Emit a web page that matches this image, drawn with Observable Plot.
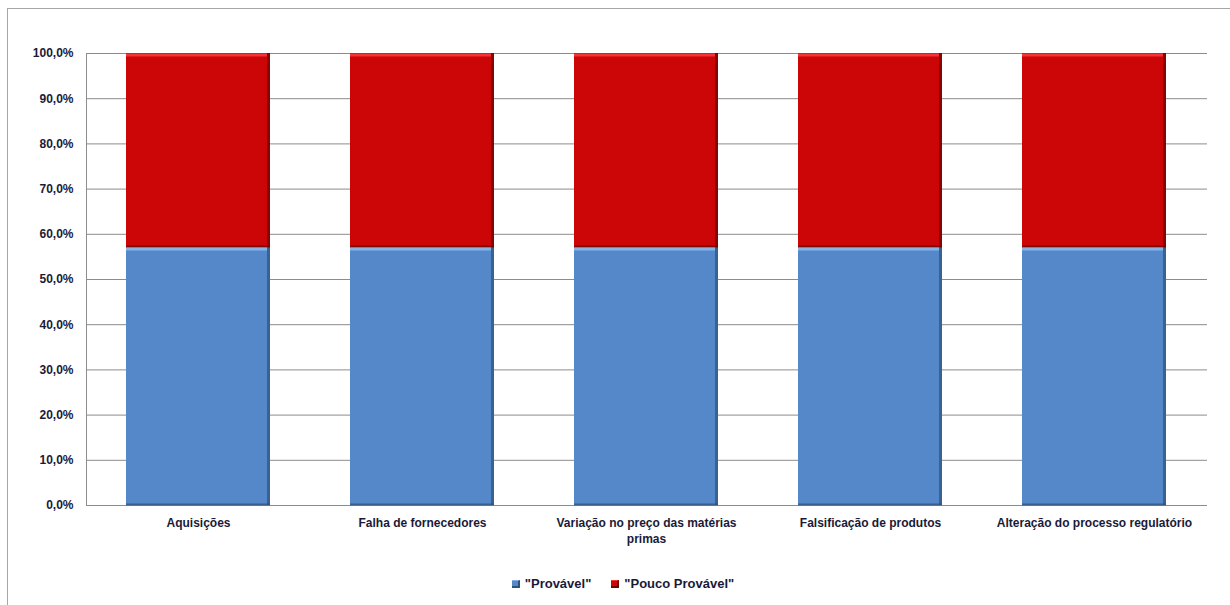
<!DOCTYPE html>
<html>
<head>
<meta charset="utf-8">
<script src="https://cdn.jsdelivr.net/npm/d3@7"></script>
<script src="https://cdn.jsdelivr.net/npm/@observablehq/plot@0.6"></script>
<style>
  html, body { margin: 0; padding: 0; background: #fff; }
  body { width: 1230px; height: 605px; position: relative; overflow: hidden; font-family: "Liberation Sans", sans-serif; }
  #frame { position: absolute; left: 7px; top: 8px; width: 1240px; height: 620px; border-top: 1px solid #a6a6a6; border-left: 1px solid #a6a6a6; }
  #chart { position: absolute; left: 0; top: 0; }
  #legend { position: absolute; top: 576px; left: 0; width: 1230px; display: flex; justify-content: center; gap: 20px; font: bold 13px "Liberation Sans", sans-serif; color: #1a1a38; margin-left: 8px; }
  #legend span.item { display: inline-flex; align-items: center; gap: 5px; }
  #legend span.sw { width: 8px; height: 8px; display: inline-block; box-sizing: border-box; }
</style>
</head>
<body>
<div id="frame"></div>
<div id="chart"></div>
<div id="legend"></div>
<script>
// Risk categories and the share of answers for each rating
const categories = [
  "Aquisições",
  "Falha de fornecedores",
  "Variação no preço das matérias primas",
  "Falsificação de produtos",
  "Alteração do processo regulatório"
];
const categoryLabels = [
  "Aquisições",
  "Falha de fornecedores",
  "Variação no preço das matérias\nprimas",
  "Falsificação de produtos",
  "Alteração do processo regulatório"
];
const provavel = [57.1, 57.1, 57.1, 57.1, 57.1];
const poucoProvavel = [42.9, 42.9, 42.9, 42.9, 42.9];
const seriesNames = ['"Provável"', '"Pouco Provável"'];
const seriesColors = ["#5588c8", "#cc0606"];
const seriesHighlight = ["#86b2e6", "#f43434"];
const seriesShadow = ["#2e527e", "#6e0202"];
const yTicks = [0, 10, 20, 30, 40, 50, 60, 70, 80, 90, 100];

const rows = [];
categories.forEach((c, i) => {
  rows.push({cat: c, series: seriesNames[0], value: provavel[i]});
  rows.push({cat: c, series: seriesNames[1], value: poucoProvavel[i]});
});

const labelOf = new Map(categories.map((c, i) => [c, categoryLabels[i]]));
const textColor = "#1a1a38";
const stackOpts = {x: "cat", y: "value", z: "series", order: seriesNames};
const shadeOf = d => seriesShadow[seriesNames.indexOf(d.series)];
const lightOf = d => seriesHighlight[seriesNames.indexOf(d.series)];

const chart = Plot.plot({
  width: 1230,
  height: 560,
  marginLeft: 86,
  marginRight: 23,
  marginTop: 53,
  marginBottom: 55,
  style: {fontFamily: "Liberation Sans, sans-serif", fontSize: "12px", fontWeight: "bold", color: textColor, background: "transparent"},
  x: {domain: categories, paddingInner: 0.357, paddingOuter: 0.179, label: null},
  y: {domain: [0, 100], label: null},
  color: {domain: seriesNames, range: seriesColors},
  marks: [
    Plot.gridY(yTicks, {stroke: "#8c8c8c", strokeOpacity: 1, strokeWidth: 1}),
    Plot.frame({anchor: "left", stroke: "#8c8c8c"}),
    Plot.ruleY([0], {stroke: "#8c8c8c"}),
    // segment bodies
    Plot.barY(rows, Plot.stackY({...stackOpts, fill: "series"})),
    // darker right-hand edge
    Plot.barY(rows, Plot.stackY({...stackOpts, fill: shadeOf, fillOpacity: 0.7, insetLeft: 141})),
    // darker bottom edge
    Plot.tickY(rows, Plot.stackY1({...stackOpts, stroke: shadeOf, strokeWidth: 2, dy: -1, strokeOpacity: 0.75})),
    // light top highlight
    Plot.tickY(rows, Plot.stackY2({...stackOpts, stroke: lightOf, strokeWidth: 3, dy: 1.5, insetRight: 3})),
    Plot.axisY(yTicks, {tickSize: 0, tickPadding: 13, tickFormat: d => d.toFixed(1).replace(".", ",") + "%", fill: textColor, fontWeight: "bold", fontSize: 12}),
    Plot.axisX({tickSize: 0, tickPadding: 10, tickFormat: d => labelOf.get(d), fill: textColor, fontWeight: "bold", fontSize: 12, lineHeight: 1.35})
  ]
});
document.getElementById("chart").appendChild(chart);

// legend below the plot
const legend = document.getElementById("legend");
seriesNames.forEach((name, i) => {
  const item = document.createElement("span");
  item.className = "item";
  const sw = document.createElement("span");
  sw.className = "sw";
  sw.style.background = seriesColors[i];
  sw.style.borderRight = `2px solid ${seriesShadow[i]}`;
  sw.style.borderBottom = `2px solid ${seriesShadow[i]}`;
  sw.style.borderTop = `1px solid ${seriesHighlight[i]}`;
  item.appendChild(sw);
  item.appendChild(document.createTextNode(name));
  legend.appendChild(item);
});
</script>
</body>
</html>
